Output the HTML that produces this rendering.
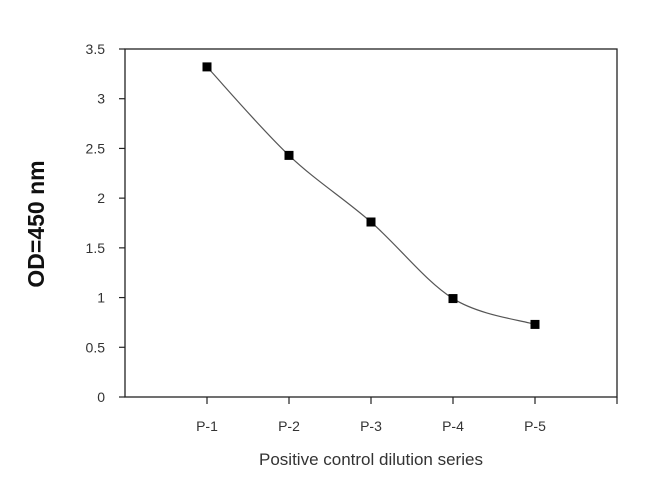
<!DOCTYPE html>
<html><head><meta charset="utf-8"><style>
html,body{margin:0;padding:0;background:#fff;}
svg text{font-family:"Liberation Sans",sans-serif;fill:#333;}
</style></head><body>
<svg width="650" height="478" viewBox="0 0 650 478" id="chart">
<rect x="125" y="49" width="492" height="348" fill="none" stroke="#222" stroke-width="1.3"/>
<g id="yaxis"></g>
<g id="xaxis"></g>
<g id="series"></g>
<text x="44" y="224" transform="rotate(-90 44 224)" text-anchor="middle" font-size="23" font-weight="bold" style="fill:#111">OD=450 nm</text>
<text x="371" y="465" text-anchor="middle" font-size="17">Positive control dilution series</text>
</svg>
<script>
const categories=["P-1","P-2","P-3","P-4","P-5"];
const values=[3.32,2.43,1.76,0.99,0.73];
const yTicks=[0,0.5,1,1.5,2,2.5,3,3.5];
const yTickLabels=["0","0.5","1","1.5","2","2.5","3","3.5"];
const NS="http://www.w3.org/2000/svg";
const L=125,R=617,T=49,B=397,YMAX=3.5;
const xs=i=>L+(R-L)/(categories.length+1)*(i+1);
const ys=v=>B-(B-T)*v/YMAX;
function mk(t,a,p){const e=document.createElementNS(NS,t);for(const k in a)e.setAttribute(k,a[k]);p.appendChild(e);return e;}
const ya=document.getElementById('yaxis');
yTicks.forEach((v,i)=>{
 const l=mk('line',{x1:L-6,x2:L,y1:ys(v),y2:ys(v),stroke:'#222','stroke-width':1.2},ya);
 
 
 const t=mk('text',{x:L-20,y:ys(v)+5,'text-anchor':'end','font-size':14},ya);
 t.textContent=yTickLabels[i];
 
 
});
const xa=document.getElementById('xaxis');
for(let i=0;i<=categories.length;i++){
 const l=mk('line',{x1:xs(i),x2:xs(i),y1:B,y2:B+7,stroke:'#222','stroke-width':1.2},xa);
 
 
}
categories.forEach((c,i)=>{
 const t=mk('text',{x:xs(i),y:B+34,'text-anchor':'middle','font-size':14},xa);
 t.textContent=c;
 
 
});
const sg=document.getElementById('series');
const P=values.map((v,i)=>[xs(i),ys(v)]);
let d=`M${P[0][0]},${P[0][1]}`;
for(let i=0;i<P.length-1;i++){
 const p0=P[i-1]||P[i],p1=P[i],p2=P[i+1],p3=P[i+2]||P[i+1];
 const c1=[p1[0]+(p2[0]-p0[0])/6,p1[1]+(p2[1]-p0[1])/6];
 const c2=[p2[0]-(p3[0]-p1[0])/6,p2[1]-(p3[1]-p1[1])/6];
 d+=` C${c1[0]},${c1[1]} ${c2[0]},${c2[1]} ${p2[0]},${p2[1]}`;
}
const path=mk('path',{d:d,fill:'none',stroke:'#555','stroke-width':1.2},sg);


P.forEach(p=>{
 const r=mk('rect',{x:p[0]-4.5,y:p[1]-4.5,width:9,height:9,fill:'#000'},sg);
 
 
});
</script>
</body></html>
